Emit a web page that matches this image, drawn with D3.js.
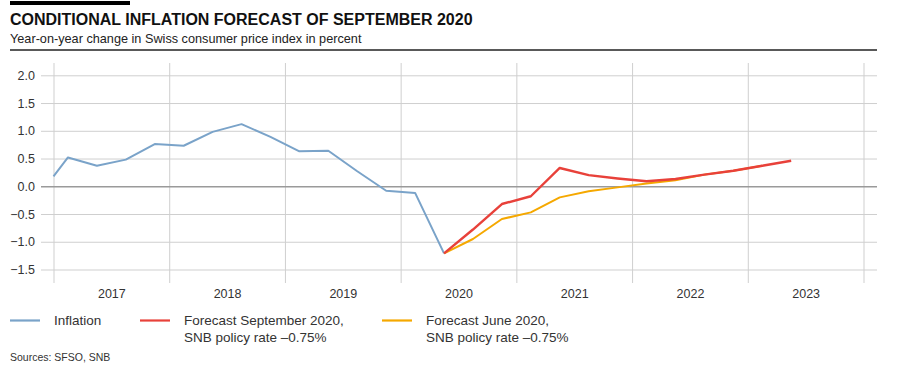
<!DOCTYPE html>
<html>
<head>
<meta charset="utf-8">
<script src="https://cdn.jsdelivr.net/npm/d3@7"></script>
<style>
  html, body { margin: 0; padding: 0; background: #fff; }
  svg { display: block; font-family: "Liberation Sans", Arial, sans-serif; }
</style>
</head>
<body>
<svg id="chart" width="907" height="370"></svg>
<script>
// ---- Data ----
const yearLabels = ["2017", "2018", "2019", "2020", "2021", "2022", "2023"];
const yTicks = [-1.5, -1.0, -0.5, 0.0, 0.5, 1.0, 1.5, 2.0];

// Inflation (quarterly, plotted at quarter midpoints, decimal years)
const inflationDates  = [2017.0, 2017.125, 2017.375, 2017.625, 2017.875, 2018.125, 2018.375, 2018.625, 2018.875, 2019.125, 2019.375, 2019.625, 2019.875, 2020.125, 2020.375];
const inflationValues = [0.18, 0.52, 0.37, 0.48, 0.76, 0.73, 0.98, 1.12, 0.89, 0.63, 0.64, 0.27, -0.08, -0.12, -1.21];

// Conditional forecast September 2020
const forecastSepDates  = [2020.375, 2020.625, 2020.875, 2021.125, 2021.375, 2021.625, 2021.875, 2022.125, 2022.375, 2022.625, 2022.875, 2023.125, 2023.375];
const forecastSepValues = [-1.21, -0.78, -0.32, -0.18, 0.33, 0.20, 0.14, 0.09, 0.13, 0.21, 0.28, 0.37, 0.46];

// Conditional forecast June 2020
const forecastJunDates  = [2020.375, 2020.625, 2020.875, 2021.125, 2021.375, 2021.625, 2021.875, 2022.125, 2022.375, 2022.625, 2022.875, 2023.125];
const forecastJunValues = [-1.21, -0.95, -0.59, -0.47, -0.20, -0.09, -0.02, 0.05, 0.11, 0.21, 0.28, 0.37];

const legendItems = [
  { lines: ["Inflation"], color: "#7aa3c9" },
  { lines: ["Forecast September 2020,", "SNB policy rate \u20130.75%"], color: "#e8413a" },
  { lines: ["Forecast June 2020,", "SNB policy rate \u20130.75%"], color: "#f5a800" }
];

// ---- Layout ----
const svg = d3.select("#chart");
const plotLeft = 41, plotRight = 877;
const gridTop = 63, gridBottom = 283;

const x = d3.scaleLinear().domain([2017, 2024]).range([53.5, 863.5]);
const y = d3.scaleLinear().domain([-1.5, 2.0]).range([269.5, 75.3]);

// Title block
svg.append("rect").attr("x", 10).attr("y", 1).attr("width", 120).attr("height", 4).attr("fill", "#000");
svg.append("text").attr("x", 10).attr("y", 25)
  .attr("font-size", 16).attr("font-weight", "bold").attr("fill", "#111")
  .text("CONDITIONAL INFLATION FORECAST OF SEPTEMBER 2020");
svg.append("text").attr("x", 10).attr("y", 43)
  .attr("font-size", 12.7).attr("fill", "#222")
  .text("Year-on-year change in Swiss consumer price index in percent");
svg.append("line").attr("x1", 10).attr("x2", plotRight).attr("y1", 50).attr("y2", 50)
  .attr("stroke", "#222").attr("stroke-width", 1.3);

// Vertical gridlines (year boundaries)
const xGrid = svg.append("g").attr("transform", `translate(0,${gridBottom})`)
  .call(d3.axisBottom(x).tickValues(d3.range(2017, 2025)).tickSize(-(gridBottom - gridTop)).tickFormat(""));
xGrid.select(".domain").remove();
xGrid.selectAll(".tick line").attr("stroke", "#cfcfcf").attr("stroke-width", 1);

// Horizontal gridlines + y labels
const yAxis = svg.append("g").attr("transform", `translate(${plotLeft},0)`)
  .call(d3.axisLeft(y).tickValues(yTicks).tickSize(-(plotRight - plotLeft)).tickPadding(6)
    .tickFormat(d => d3.format(".1f")(d).replace("-", "\u2013")));
yAxis.select(".domain").remove();
yAxis.selectAll(".tick line")
  .attr("stroke", d => d === 0 ? "#9a9a9a" : "#cfcfcf")
  .attr("stroke-width", d => d === 0 ? 1.6 : 1);
yAxis.selectAll(".tick text").attr("font-size", 12.5).attr("fill", "#333")
  .attr("font-family", "\"Liberation Sans\", Arial, sans-serif");

// Year labels
const xLab = svg.append("g").attr("transform", `translate(0,289)`)
  .call(d3.axisBottom(x).tickValues(yearLabels.map(v => +v + 0.5)).tickSize(0).tickPadding(0)
    .tickFormat((d, i) => yearLabels[i]));
xLab.select(".domain").remove();
xLab.selectAll(".tick text").attr("font-size", 12.5).attr("fill", "#333")
  .attr("font-family", "\"Liberation Sans\", Arial, sans-serif");

// Lines
const line = d3.line().x(d => x(d[0])).y(d => y(d[1]));
const zip = (a, b) => a.map((v, i) => [v, b[i]]);

svg.append("path").datum(zip(forecastJunDates, forecastJunValues))
  .attr("d", line).attr("fill", "none").attr("stroke", "#f5a800").attr("stroke-width", 2)
  .attr("stroke-linejoin", "round");
svg.append("path").datum(zip(inflationDates, inflationValues))
  .attr("d", line).attr("fill", "none").attr("stroke", "#7aa3c9").attr("stroke-width", 2)
  .attr("stroke-linejoin", "round");
svg.append("path").datum(zip(forecastSepDates, forecastSepValues))
  .attr("d", line).attr("fill", "none").attr("stroke", "#e8413a").attr("stroke-width", 2.4)
  .attr("stroke-linejoin", "round");

// Legend
const legendX = [10, 140, 382];
const lg = svg.append("g");
legendItems.forEach((item, i) => {
  const g = lg.append("g").attr("transform", `translate(${legendX[i]},0)`);
  g.append("line").attr("x1", 0).attr("x2", 30).attr("y1", 320.5).attr("y2", 320.5)
    .attr("stroke", item.color).attr("stroke-width", 2.2);
  const t = g.append("text").attr("x", 44).attr("y", 325).attr("font-size", 13.5).attr("fill", "#333");
  item.lines.forEach((l, j) => {
    t.append("tspan").attr("x", 44).attr("dy", j === 0 ? 0 : 16.5).text(l);
  });
});

// Source
svg.append("text").attr("x", 10).attr("y", 361).attr("font-size", 10.5).attr("fill", "#333")
  .text("Sources: SFSO, SNB");
</script>
</body>
</html>
